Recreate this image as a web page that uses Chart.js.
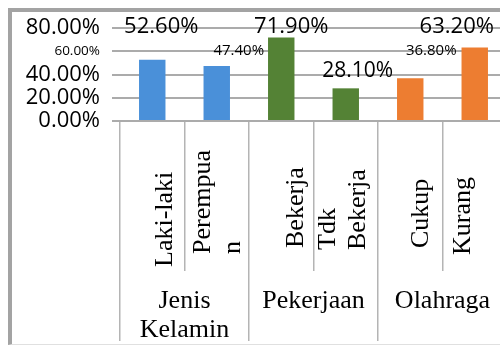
<!DOCTYPE html>
<html>
<head>
<meta charset="utf-8">
<script src="https://cdn.jsdelivr.net/npm/chart.js@4.4.0/dist/chart.umd.min.js"></script>
<style>
  html, body { margin: 0; padding: 0; background: #fff; overflow: hidden; width: 500px; height: 347px; }
  #wrap { position: absolute; left: 0; top: 0; width: 515px; height: 347px; }
  .frame { position: absolute; left: 8px; top: 8px; width: 600px; height: 332px;
           border-top: 4px solid #a3a3a3; border-left: 4px solid #a3a3a3; border-bottom: 1px solid #e0e0e0;
           pointer-events: none; }
</style>
</head>
<body>
<div id="wrap"><canvas id="chart" width="515" height="347"></canvas></div>
<div class="frame"></div>
<script>
// Categories, groups and values
const categories = ['Laki-laki', ['Perempua', 'n'], 'Bekerja', ['Tdk', 'Bekerja'], 'Cukup', 'Kurang'];
const groups = [['Jenis', 'Kelamin'], 'Pekerjaan', 'Olahraga'];
const values = [52.6, 47.4, 71.9, 28.1, 36.8, 63.2];
const yTicks = [0, 20, 40, 60, 80];

// Styling
const barColors = ['#4a90d9', '#4a90d9', '#548235', '#548235', '#ed7d31', '#ed7d31'];
const valueLabelSize = [22, 15, 22, 21, 15, 22];
const valueLabelDx = [9, 22, 10, 12, 21, -18];
const valueLabelDy = [-33.5, -15, -11, -17, -27, -21];
const catNudgeX = [13, 1, 15, -3, 11, -12];
const catNudgeY = [17, 4, -2, 0, -2, 5];

const serif = '"Liberation Serif", "Times New Roman", serif';
const sans = '"Open Sans", sans-serif';

// Value labels above bars (placed where the original had them)
const valueLabels = {
    id: 'valueLabels',
    afterDatasetsDraw(chart) {
        const ctx = chart.ctx;
        const meta = chart.getDatasetMeta(0);
        ctx.save();
        ctx.fillStyle = '#000';
        ctx.textAlign = 'center';
        ctx.textBaseline = 'middle';
        meta.data.forEach((bar, i) => {
            ctx.font = valueLabelSize[i] + 'px ' + sans;
            ctx.fillText(values[i].toFixed(2) + '%', bar.x + valueLabelDx[i], bar.y + valueLabelDy[i]);
        });
        ctx.restore();
    }
};

// Rotated category labels, bottom aligned like in Excel
const categoryLabels = {
    id: 'categoryLabels',
    afterDraw(chart) {
        const ctx = chart.ctx;
        const xs = chart.scales.x;
        const lineH = 30;
        ctx.save();
        ctx.fillStyle = '#000';
        ctx.font = '26px ' + serif;
        ctx.textAlign = 'left';
        ctx.textBaseline = 'middle';
        categories.forEach((lab, i) => {
            const lines = Array.isArray(lab) ? lab : [lab];
            const cx = xs.getPixelForValue(i) + catNudgeX[i];
            const by = 250 + catNudgeY[i];
            ctx.save();
            ctx.translate(cx, by);
            ctx.rotate(-Math.PI / 2);
            lines.forEach((t, j) => {
                ctx.fillText(t, 0, (j - (lines.length - 1) / 2) * lineH);
            });
            ctx.restore();
        });
        ctx.restore();
    }
};

new Chart(document.getElementById('chart'), {
    type: 'bar',
    data: {
        labels: categories,
        datasets: [{
            data: values,
            backgroundColor: barColors,
            borderWidth: 0,
            categoryPercentage: 1,
            barPercentage: 0.41
        }]
    },
    options: {
        responsive: false,
        animation: false,
        devicePixelRatio: 1,
        layout: { padding: { top: 28, left: 0, right: 8, bottom: 0 } },
        plugins: {
            legend: { display: false },
            tooltip: { enabled: false }
        },
        scales: {
            y: {
                min: 0,
                max: 80,
                afterBuildTicks(scale) {
                    scale.ticks = yTicks.map(v => ({ value: v }));
                },
                afterFit(scale) {
                    scale.width = 120;
                    scale.paddingTop = 0;
                    scale.paddingBottom = 0;
                },
                border: { display: false },
                grid: { color: '#ababab', lineWidth: 2, tickLength: 8, drawTicks: true },
                ticks: {
                    autoSkip: false,
                    padding: 12,
                    color: '#000',
                    font: (c) => ({ family: sans, size: (c.tick && c.tick.value === 60) ? 13.5 : 22 }),
                    callback: (v) => v.toFixed(2) + '%'
                }
            },
            x: {
                weight: 0,
                offset: true,
                afterFit(scale) {
                    scale.height = 150;
                    scale.paddingLeft = 0;
                    scale.paddingRight = 0;
                },
                border: { display: true, color: '#ababab', width: 2 },
                grid: { offset: true, drawOnChartArea: false, drawTicks: true, tickLength: 150, color: '#b4b4b4', lineWidth: 1.5 },
                ticks: { display: false }
            },
            x2: {
                type: 'category',
                position: 'bottom',
                weight: 1,
                labels: groups,
                offset: true,
                afterFit(scale) {
                    scale.height = 76;
                    scale.paddingLeft = 0;
                    scale.paddingRight = 0;
                },
                border: { display: false },
                grid: { offset: true, drawOnChartArea: false, drawTicks: true, tickLength: 70, color: '#b4b4b4', lineWidth: 1.5 },
                ticks: {
                    padding: -54.5,
                    maxRotation: 0,
                    minRotation: 0,
                    autoSkip: false,
                    color: '#000',
                    font: { family: serif, size: 26, lineHeight: 1.12 }
                }
            }
        }
    },
    plugins: [valueLabels, categoryLabels]
});
</script>
</body>
</html>
